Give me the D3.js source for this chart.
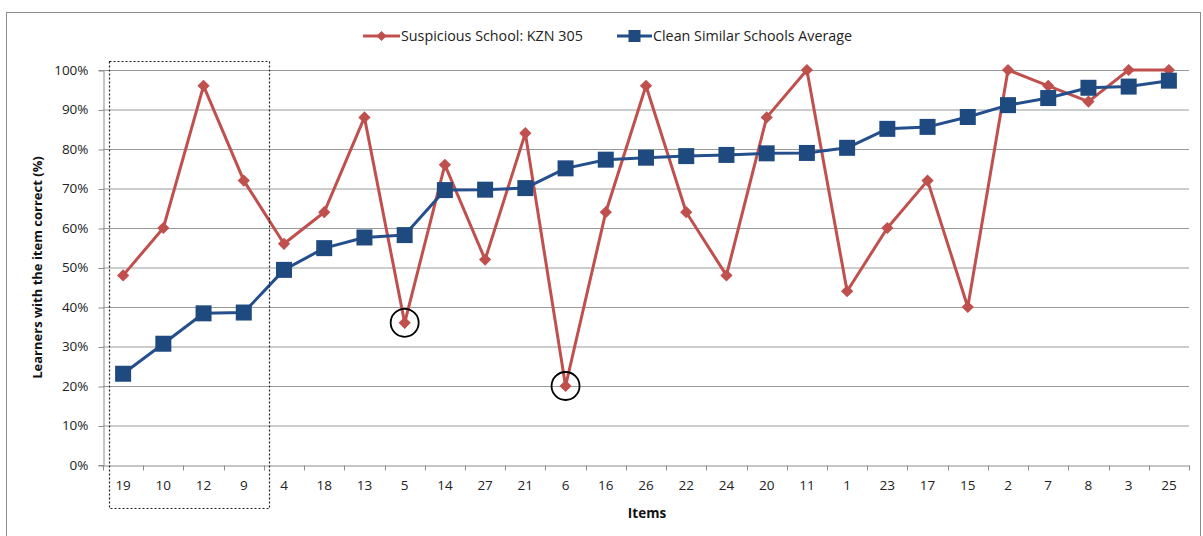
<!DOCTYPE html>
<html><head><meta charset="utf-8">
<script src="https://cdn.jsdelivr.net/npm/d3@7"></script>
<style>
body{margin:0;background:#fff;}
text{font-family:"Open Sans","Noto Sans",sans-serif;}
</style></head>
<body><svg id="c" width="1203" height="536"></svg>
<script>
const items = ["19","10","12","9","4","18","13","5","14","27","21","6","16","26","22","24","20","11","1","23","17","15","2","7","8","3","25"];
const suspicious = [48,60,96,72,56,64,88,36,76,52,84,20,64,96,64,48,88,100,44,60,72,40,100,96,92,100,100];
const cleanAvg = [23.1,30.7,38.4,38.6,49.4,54.9,57.6,58.2,69.6,69.7,70.1,75.1,77.3,77.8,78.2,78.5,78.9,79.0,80.3,85.1,85.6,88.1,91.1,92.9,95.5,95.8,97.3];
const yTicks = [0,10,20,30,40,50,60,70,80,90,100];
const seriesNames = ["Suspicious School: KZN 305","Clean Similar Schools Average"];
const circled = ["5","6"];
const boxedItems = ["19","10","12","9"];

const svg = d3.select("#c");
const red = "#C0504D", redMark="#C0504D", blue="#254F8C", blueMark="#1F4A80";
const L=103, R=1189, T=70, B=465;

svg.append("rect").attr("x",6.5).attr("y",12.5).attr("width",1194).attr("height",530)
  .attr("fill","none").attr("stroke","#8c8c8c").attr("stroke-width",1);

const x = d3.scaleBand().domain(items).range([L,R]).paddingInner(0).paddingOuter(0);
const y = d3.scaleLinear().domain([0,100]).range([B,T]);

// gridlines
svg.append("g").selectAll("line").data(yTicks.filter(d=>d>0)).join("line")
  .attr("x1",L).attr("x2",R).attr("y1",d=>y(d)+0.5).attr("y2",d=>y(d)+0.5)
  .attr("stroke","#9a9a9a").attr("stroke-width",1);

// y axis
const ya = svg.append("g").attr("transform",`translate(${L+0.5},0)`)
  .call(d3.axisLeft(y).tickValues(yTicks).tickFormat(d=>d+"%").tickSize(5).tickPadding(10));
ya.select(".domain").attr("stroke","#8c8c8c");
ya.selectAll(".tick line").attr("stroke","#8c8c8c").attr("transform","translate(0,0.5)");
ya.selectAll("text").attr("font-size",13.5).attr("fill","#222");

// x axis
const xa = svg.append("g").attr("transform",`translate(0,${B+0.5})`)
  .call(d3.axisBottom(x).tickSize(0).tickPadding(15));
xa.select(".domain").attr("stroke","#8c8c8c");
xa.selectAll("text").attr("font-size",13.5).attr("fill","#222");
const bounds = items.map(d=>x(d)).concat([R]);
xa.append("g").selectAll("line").data(bounds).join("line")
  .attr("x1",d=>Math.round(d)+0.5).attr("x2",d=>Math.round(d)+0.5).attr("y1",0).attr("y2",5)
  .attr("stroke","#8c8c8c");

const cx = d=>x(d)+x.bandwidth()/2;

// lines
const line = d3.line().x(d=>cx(d.k)).y(d=>y(d.v));
const sData = items.map((k,i)=>({k,v:suspicious[i]}));
const cData = items.map((k,i)=>({k,v:cleanAvg[i]}));
svg.append("path").datum(sData).attr("d",line).attr("fill","none").attr("stroke",red).attr("stroke-width",3).attr("stroke-linejoin","round");
svg.append("path").datum(cData).attr("d",line).attr("fill","none").attr("stroke",blue).attr("stroke-width",3).attr("stroke-linejoin","round");

// markers
svg.append("g").selectAll("path").data(sData).join("path")
  .attr("d", d3.symbol().type(d3.symbolSquare).size(75))
  .attr("transform",d=>`translate(${cx(d.k)},${y(d.v)}) rotate(45)`)
  .attr("fill",redMark);
svg.append("g").selectAll("rect").data(cData).join("rect")
  .attr("x",d=>cx(d.k)-8).attr("y",d=>y(d.v)-8).attr("width",16).attr("height",16)
  .attr("fill",blueMark);

// circles on suspicious points
svg.append("g").selectAll("circle").data(sData.filter(d=>circled.includes(d.k))).join("circle")
  .attr("cx",d=>cx(d.k)).attr("cy",d=>y(d.v)).attr("r",14)
  .attr("fill","none").attr("stroke","#000").attr("stroke-width",1.8);

// dotted box
const bx0 = x(boxedItems[0])+6, bx1 = x(boxedItems[boxedItems.length-1])+x.bandwidth()+5;
svg.append("rect").attr("x",Math.round(bx0)+0.5).attr("y",61.5).attr("width",Math.round(bx1-bx0)).attr("height",447)
  .attr("fill","none").attr("stroke","#222").attr("stroke-width",1.2).attr("stroke-dasharray","2,2");

// axis titles
svg.append("text").attr("transform",`translate(42,${(T+B)/2}) rotate(-90)`).attr("text-anchor","middle")
  .attr("font-size",13).attr("font-weight","bold").attr("fill","#111").text("Learners with the item correct (%)");
svg.append("text").attr("x",647).attr("y",518).attr("text-anchor","middle")
  .attr("font-size",13.5).attr("font-weight","bold").attr("fill","#111").text("Items");

// legend
const leg = [{x0:363,x1:400,c:red,t:seriesNames[0],m:"d"},{x0:617,x1:652,c:blue,t:seriesNames[1],m:"s"}];
const lg = svg.append("g");
leg.forEach(l=>{
  lg.append("line").attr("x1",l.x0).attr("x2",l.x1).attr("y1",36).attr("y2",36).attr("stroke",l.c).attr("stroke-width",3);
  const mx=(l.x0+l.x1)/2;
  if(l.m==="d") lg.append("path").attr("d",d3.symbol().type(d3.symbolSquare).size(50)).attr("transform",`translate(${mx},36) rotate(45)`).attr("fill",redMark);
  else lg.append("rect").attr("x",mx-6).attr("y",30).attr("width",12).attr("height",12).attr("fill",blueMark);
  lg.append("text").attr("x",l.x1+1).attr("y",41).attr("font-size",14.3).attr("fill","#222").text(l.t);
});
</script></body></html>
